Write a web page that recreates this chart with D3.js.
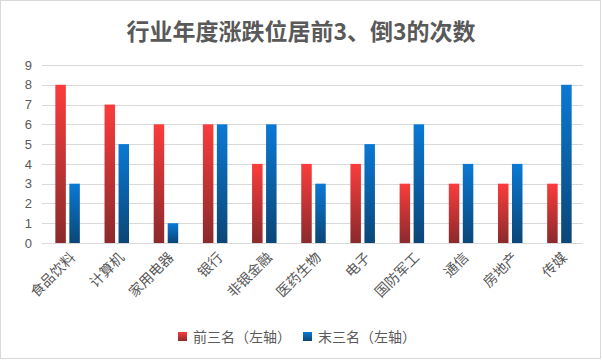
<!DOCTYPE html>
<html>
<head>
<meta charset="utf-8">
<script src="https://cdn.jsdelivr.net/npm/d3@7"></script>
<style>
  body { margin: 0; background: #fff; }
  text { font-family: "Noto Sans CJK SC", "Microsoft YaHei", sans-serif; }
</style>
</head>
<body>
<svg id="chart" width="602" height="362"></svg>
<script>
// Chart data
const industries = ["食品饮料", "计算机", "家用电器", "银行", "非银金融", "医药生物", "电子", "国防军工", "通信", "房地产", "传媒"];
const topThree = [8, 7, 6, 6, 4, 4, 4, 3, 3, 3, 3];
const bottomThree = [3, 5, 1, 6, 6, 3, 5, 6, 4, 4, 8];
const seriesNames = ["前三名（左轴）", "末三名（左轴）"];
const yTicks = [0, 1, 2, 3, 4, 5, 6, 7, 8, 9];

const svg = d3.select("#chart");

// plot area
const margin = { top: 65, right: 19, bottom: 119, left: 42 };
const width = 602 - margin.left - margin.right;
const height = 362 - margin.top - margin.bottom;

// Outer frame
svg.append("rect")
  .attr("x", 0.5).attr("y", 0.5)
  .attr("width", 600).attr("height", 358)
  .attr("fill", "#fff")
  .attr("stroke", "#d9d9d9");

// Gradients for bars
const defs = svg.append("defs");
const gradRed = defs.append("linearGradient").attr("id", "gradRed")
  .attr("x1", 0).attr("y1", 0).attr("x2", 0).attr("y2", 1);
gradRed.append("stop").attr("offset", "0%").attr("stop-color", "#fb3c3c");
gradRed.append("stop").attr("offset", "100%").attr("stop-color", "#8a2a2c");
const gradBlue = defs.append("linearGradient").attr("id", "gradBlue")
  .attr("x1", 0).attr("y1", 0).attr("x2", 0).attr("y2", 1);
gradBlue.append("stop").attr("offset", "0%").attr("stop-color", "#0a79d4");
gradBlue.append("stop").attr("offset", "100%").attr("stop-color", "#0b4677");

const colors = ["url(#gradRed)", "url(#gradBlue)"];

// Title
svg.append("text")
  .attr("x", 301).attr("y", 40)
  .attr("text-anchor", "middle")
  .attr("font-size", 23)
  .attr("font-weight", "bold")
  .attr("fill", "#595959")
  .text("行业年度涨跌位居前3、倒3的次数");

const g = svg.append("g").attr("transform", `translate(${margin.left},${margin.top})`);

const x = d3.scaleBand().domain(industries).range([0, width]);
const y = d3.scaleLinear().domain([0, 9]).range([height, 0]);

// Gridlines
g.append("g")
  .selectAll("line")
  .data(yTicks.filter(d => d > 0))
  .enter().append("line")
  .attr("x1", 0).attr("x2", width)
  .attr("y1", d => Math.round(y(d)) + 0.5)
  .attr("y2", d => Math.round(y(d)) + 0.5)
  .attr("stroke", "#d9d9d9");

// Y axis
const yAxis = g.append("g")
  .call(d3.axisLeft(y).tickValues(yTicks).tickSize(0).tickPadding(10));
yAxis.select(".domain").remove();
yAxis.selectAll("text")
  .attr("font-size", 13)
  .attr("fill", "#595959")
  .style("font-family", "'Liberation Sans', Arial, sans-serif");

// Bars
const barW = 10.5, gap = 3.5;
const series = [topThree, bottomThree];
series.forEach((vals, si) => {
  g.append("g")
    .selectAll("rect")
    .data(vals)
    .enter().append("rect")
    .attr("x", (d, i) => x(industries[i]) + x.bandwidth() / 2 - barW - gap / 2 + si * (barW + gap) + 1)
    .attr("y", d => y(d))
    .attr("width", barW)
    .attr("height", d => height - y(d))
    .attr("fill", colors[si]);
});

// X axis baseline
g.append("line")
  .attr("x1", 0).attr("x2", width)
  .attr("y1", Math.round(height) + 0.5).attr("y2", Math.round(height) + 0.5)
  .attr("stroke", "#d9d9d9");

// X labels rotated -45
g.append("g")
  .selectAll("text")
  .data(industries)
  .enter().append("text")
  .attr("transform", d => `translate(${x(d) + x.bandwidth() / 2 + 6},${height + 12}) rotate(-45)`)
  .attr("text-anchor", "end")
  .attr("dy", "0.35em")
  .attr("font-size", 14)
  .attr("fill", "#595959")
  .text(d => d);

// Legend
const legend = svg.append("g");
const legendX = [178, 303];
seriesNames.forEach((name, i) => {
  legend.append("rect")
    .attr("x", legendX[i]).attr("y", 332)
    .attr("width", 9).attr("height", 9)
    .attr("fill", colors[i]);
  legend.append("text")
    .attr("x", legendX[i] + 15).attr("y", 337)
    .attr("dy", "0.35em")
    .attr("font-size", 14)
    .attr("fill", "#595959")
    .text(name);
});
</script>
</body>
</html>
